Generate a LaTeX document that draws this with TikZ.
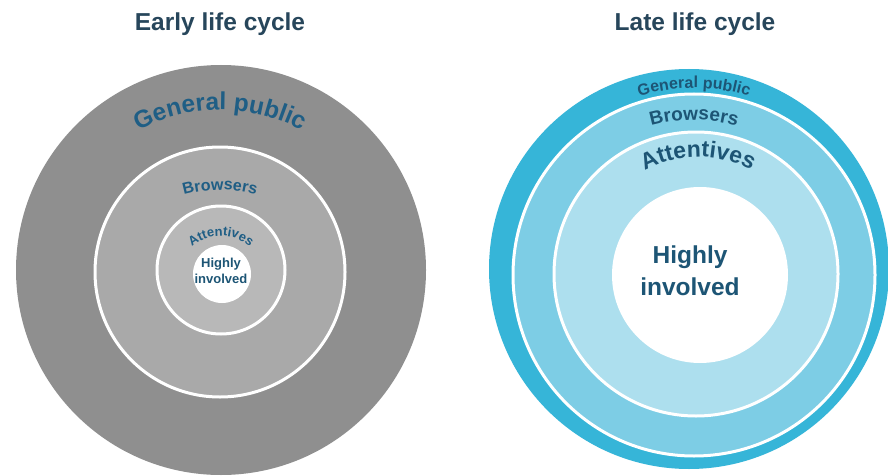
\documentclass[tikz,border=0pt]{standalone}
\usepackage{fontspec}
\setmainfont{Liberation Sans}
\usetikzlibrary{decorations.text}
\definecolor{titlec}{HTML}{27465B}
\definecolor{labc}{HTML}{1F5E85}
\definecolor{labd}{HTML}{1D5575}
\definecolor{gOut}{HTML}{8F8F8F}
\definecolor{gMid}{HTML}{A9A9A9}
\definecolor{gIn}{HTML}{B8B8B8}
\definecolor{cOut}{HTML}{36B5D8}
\definecolor{cMid}{HTML}{7DCDE5}
\definecolor{cIn}{HTML}{ADDFEE}
\tikzset{
  ring/.style={draw=white, line width=3pt},
  titletext/.style={font=\fontsize{24.5}{27}\selectfont\bfseries, text=titlec, inner sep=0pt},
  arclabel/.style={decorate, decoration={text along path, text align=center, text color=#1}},
}
\begin{document}
\begin{tikzpicture}[x=1pt,y=1pt]
\useasboundingbox (0,0) rectangle (888,475);
\fill[white] (0,0) rectangle (888,475);
% titles
\node[titletext] (t1) at (220,451) {Early life cycle};
\node[titletext] (t2) at (695,451) {Late life cycle};
% ---- left: early life cycle
\fill[gOut] (221,205) circle[radius=205pt];
\filldraw[fill=gMid, ring] (220,203) circle[radius=125pt];
\filldraw[fill=gIn, ring] (221,205) circle[radius=64pt];
\fill[white] (222,201) circle[radius=29pt];
\path[arclabel=labc, decoration={text={|\fontsize{24.5}{24.5}\selectfont\bfseries|General public}}]
  (220,190) ++(135:175pt) arc[start angle=135, end angle=45, radius=175pt];
\path[arclabel=labc, decoration={text={|\fontsize{16}{16}\selectfont\bfseries|Browsers}}]
  (220,155) ++(130:130pt) arc[start angle=130, end angle=50, radius=130pt];
\path[arclabel=labc, decoration={text={|\fontsize{13}{13}\selectfont\bfseries|Attentives}}]
  (221,194) ++(160:45pt) arc[start angle=160, end angle=20, radius=45pt];
\node[font=\fontsize{13}{16.5}\selectfont\bfseries, text=labd, align=center, inner sep=0pt] (h1) at (221,204) {Highly\\involved};
% ---- right: late life cycle
\fill[cOut] (689,206) circle[radius=200pt];
\filldraw[fill=cMid, ring] (694,200) circle[radius=181pt];
\filldraw[fill=cIn, ring] (696,201) circle[radius=142pt];
\fill[white] (700,200) circle[radius=88pt];
\path[arclabel=labd, decoration={text={|\fontsize{16}{16}\selectfont\bfseries|General public}}]
  (694,202) ++(120:185pt) arc[start angle=120, end angle=60, radius=185pt];
\path[arclabel=labd, decoration={text={|\fontsize{19}{19}\selectfont\bfseries|Browsers}}]
  (694,200) ++(125:155pt) arc[start angle=125, end angle=55, radius=155pt];
\path[arclabel=labd, decoration={text={|\fontsize{23}{23}\selectfont\bfseries|Attentives}}]
  (698,207) ++(150:111pt) arc[start angle=150, end angle=30, radius=111pt];
\node[font=\fontsize{24.5}{32}\selectfont\bfseries, text=labd, align=center, inner sep=0pt] (h2) at (690,204) {Highly\\involved};
\end{tikzpicture}
\end{document}
